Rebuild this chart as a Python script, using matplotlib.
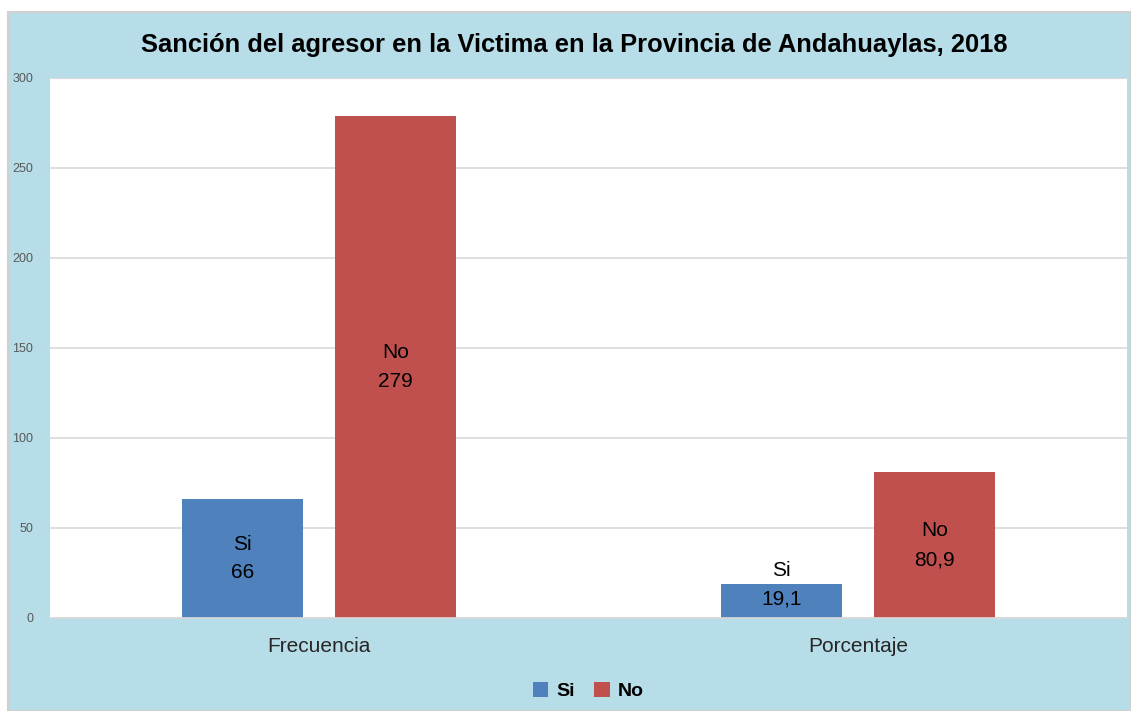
import matplotlib.pyplot as plt
import numpy as np
from matplotlib.patches import Rectangle

# data
categorias = ['Frecuencia', 'Porcentaje']
si_vals = [66, 19.1]
no_vals = [279, 80.9]
si_txt = ['66', '19,1']
no_txt = ['279', '80,9']

plt.rcParams['font.family'] = ['Liberation Sans', 'DejaVu Sans']

fig = plt.figure(figsize=(11.31, 7.11), dpi=100)
fig.patch.set_facecolor('white')

# light blue chart area with grey border
bg = Rectangle((8 / 1131, 0), 1 - 8 / 1131, (711 - 12) / 711, transform=fig.transFigure,
               facecolor='#B7DDE8', edgecolor='#D0D0D0', linewidth=1.5, zorder=-10)
fig.patches.append(bg)

ax = fig.add_axes([50 / 1131, 93 / 711, 1077 / 1131, 540 / 711])
ax.set_facecolor('white')

x = np.arange(len(categorias))
w = 0.225
off = 0.142
b1 = ax.bar(x - off, si_vals, w, color='#4F81BD', label='Si', zorder=2)
b2 = ax.bar(x + off, no_vals, w, color='#C0504D', label='No', zorder=2)

for i in range(len(categorias)):
    ax.text(x[i] - off, max(si_vals[i] / 2, 18.3), 'Si\n' + si_txt[i], ha='center', va='center',
            fontsize=15, linespacing=1.65, color='black', zorder=3)
    ax.text(x[i] + off, max(no_vals[i] / 2, 18.3), 'No\n' + no_txt[i], ha='center', va='center',
            fontsize=15, linespacing=1.65, color='black', zorder=3)

ax.set_xlim(-0.5, 1.5)
ax.set_ylim(0, 300)
ax.set_yticks(np.arange(0, 301, 50))
ax.yaxis.grid(True, color='#D9D9D9', linewidth=1.2, zorder=0)
ax.set_axisbelow(True)
for s in ['left', 'right']:
    ax.spines[s].set_visible(False)
ax.spines['top'].set_color('#D9D9D9')
ax.spines['bottom'].set_color('#D9D9D9')
ax.spines['bottom'].set_linewidth(1.2)
ax.tick_params(axis='y', length=0, labelsize=9, labelcolor='#595959', pad=12)
ax.tick_params(axis='x', length=0, labelsize=15, labelcolor='#262626', pad=14)
ax.set_xticks(x)
ax.set_xticklabels(categorias)

fig.text(0.508, 0.937, 'Sanción del agresor en la Victima en la Provincia de Andahuaylas, 2018',
         ha='center', va='center', fontsize=18.4, fontweight='bold', color='black')

fig.legend(loc='center', bbox_to_anchor=(0.52, 0.028), ncol=2, frameon=False,
           prop={'weight': 'bold', 'size': 14}, handlelength=0.8, handleheight=0.8,
           handletextpad=0.4, columnspacing=1.0)

fig.savefig('out.png', dpi=100, facecolor=fig.get_facecolor())
